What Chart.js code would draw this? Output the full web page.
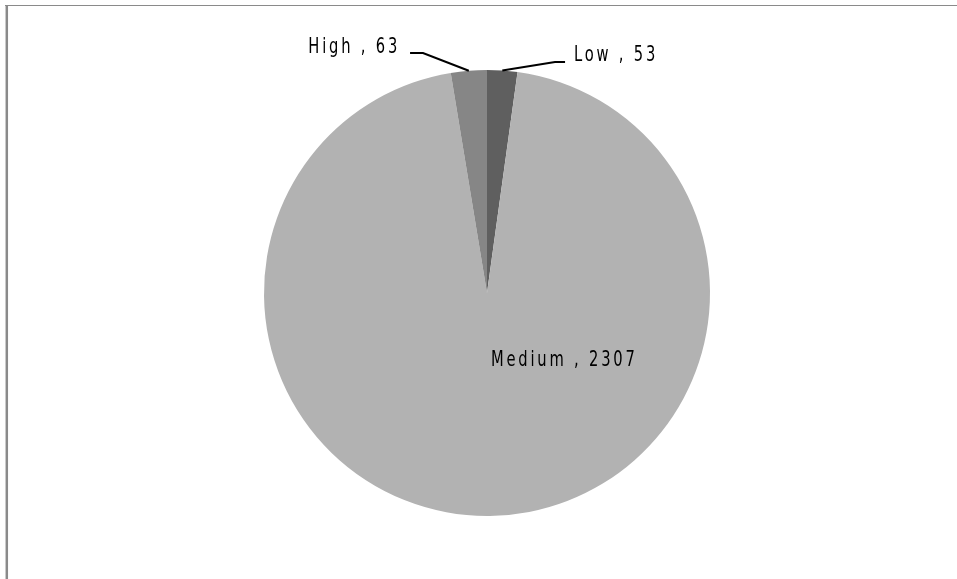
<!DOCTYPE html>
<html>
<head>
<meta charset="utf-8">
<script src="https://cdn.jsdelivr.net/npm/chart.js@4/dist/chart.umd.min.js"></script>
<style>
  html, body { margin: 0; padding: 0; background: #fff; }
  #wrap { width: 957px; height: 579px; position: relative; }
</style>
</head>
<body>
<div id="wrap"><canvas id="pie" width="957" height="579"></canvas></div>
<script>
let categories = ['Low', 'Medium', 'High'];
let counts = [53, 2307, 63];
let sliceColors = ['#5f5f5f', '#b2b2b2', '#868686'];

// label placement per slice, offsets from the pie centre in units of radius;
// leader = null means the label sits inside the slice
let labelSpots = [
    { text: [0.39, -1.067], align: 'left', leader: [[0.305, -1.036], [0.35, -1.036]] },
    { text: [0.018, 0.305], align: 'left', leader: null },
    { text: [-0.39, -1.099], align: 'right', leader: [[-0.287, -1.076], [-0.345, -1.076]] }
];

const labelFont = '21px "DejaVu Sans", sans-serif';
const squeeze = 0.7;   // horizontal squeeze to get a narrow face

let framePlugin = {
    id: 'frame',
    beforeDraw(chart) {
        const ctx = chart.ctx;
        ctx.save();
        ctx.fillStyle = '#fff';
        ctx.fillRect(0, 0, chart.width, chart.height);
        ctx.strokeStyle = '#8a8a8a';
        ctx.lineWidth = 1;
        ctx.beginPath();
        ctx.moveTo(5, 5.5);
        ctx.lineTo(chart.width, 5.5);
        ctx.stroke();
        ctx.lineWidth = 2.5;
        ctx.beginPath();
        ctx.moveTo(6.8, 5);
        ctx.lineTo(6.8, chart.height);
        ctx.stroke();
        ctx.restore();
    }
};

let labelPlugin = {
    id: 'sliceLabels',
    afterDatasetsDraw(chart) {
        const ctx = chart.ctx;
        const arcs = chart.getDatasetMeta(0).data;
        arcs.forEach((arc, i) => {
            const r = arc.outerRadius, cx = arc.x, cy = arc.y;
            const spot = labelSpots[i];
            ctx.save();
            if (spot.leader) {
                const mid = (arc.startAngle + arc.endAngle) / 2;
                ctx.strokeStyle = '#000';
                ctx.lineWidth = 2;
                ctx.beginPath();
                ctx.moveTo(cx + Math.cos(mid) * r, cy + Math.sin(mid) * r);
                spot.leader.forEach(p => ctx.lineTo(cx + p[0] * r, cy + p[1] * r));
                ctx.stroke();
            }
            const label = categories[i] + ' , ' + counts[i];
            ctx.translate(cx + spot.text[0] * r, cy + spot.text[1] * r);
            ctx.scale(squeeze, 1);
            ctx.font = labelFont;
            ctx.letterSpacing = (2.8 / squeeze).toFixed(2) + 'px';
            ctx.fillStyle = '#000';
            ctx.textBaseline = 'middle';
            ctx.textAlign = spot.align;
            ctx.fillText(label, 0, 0);
            ctx.restore();
        });
    }
};

let chart = new Chart(document.getElementById('pie'), {
    type: 'pie',
    data: {
        labels: categories,
        datasets: [{
            data: counts,
            backgroundColor: sliceColors,
            borderWidth: 0
        }]
    },
    options: {
        responsive: false,
        animation: false,
        layout: { padding: { top: 70, bottom: 63, left: 20, right: 3 } },
        plugins: {
            legend: { display: false },
            tooltip: { enabled: false }
        }
    },
    plugins: [framePlugin, labelPlugin]
});
</script>
</body>
</html>
